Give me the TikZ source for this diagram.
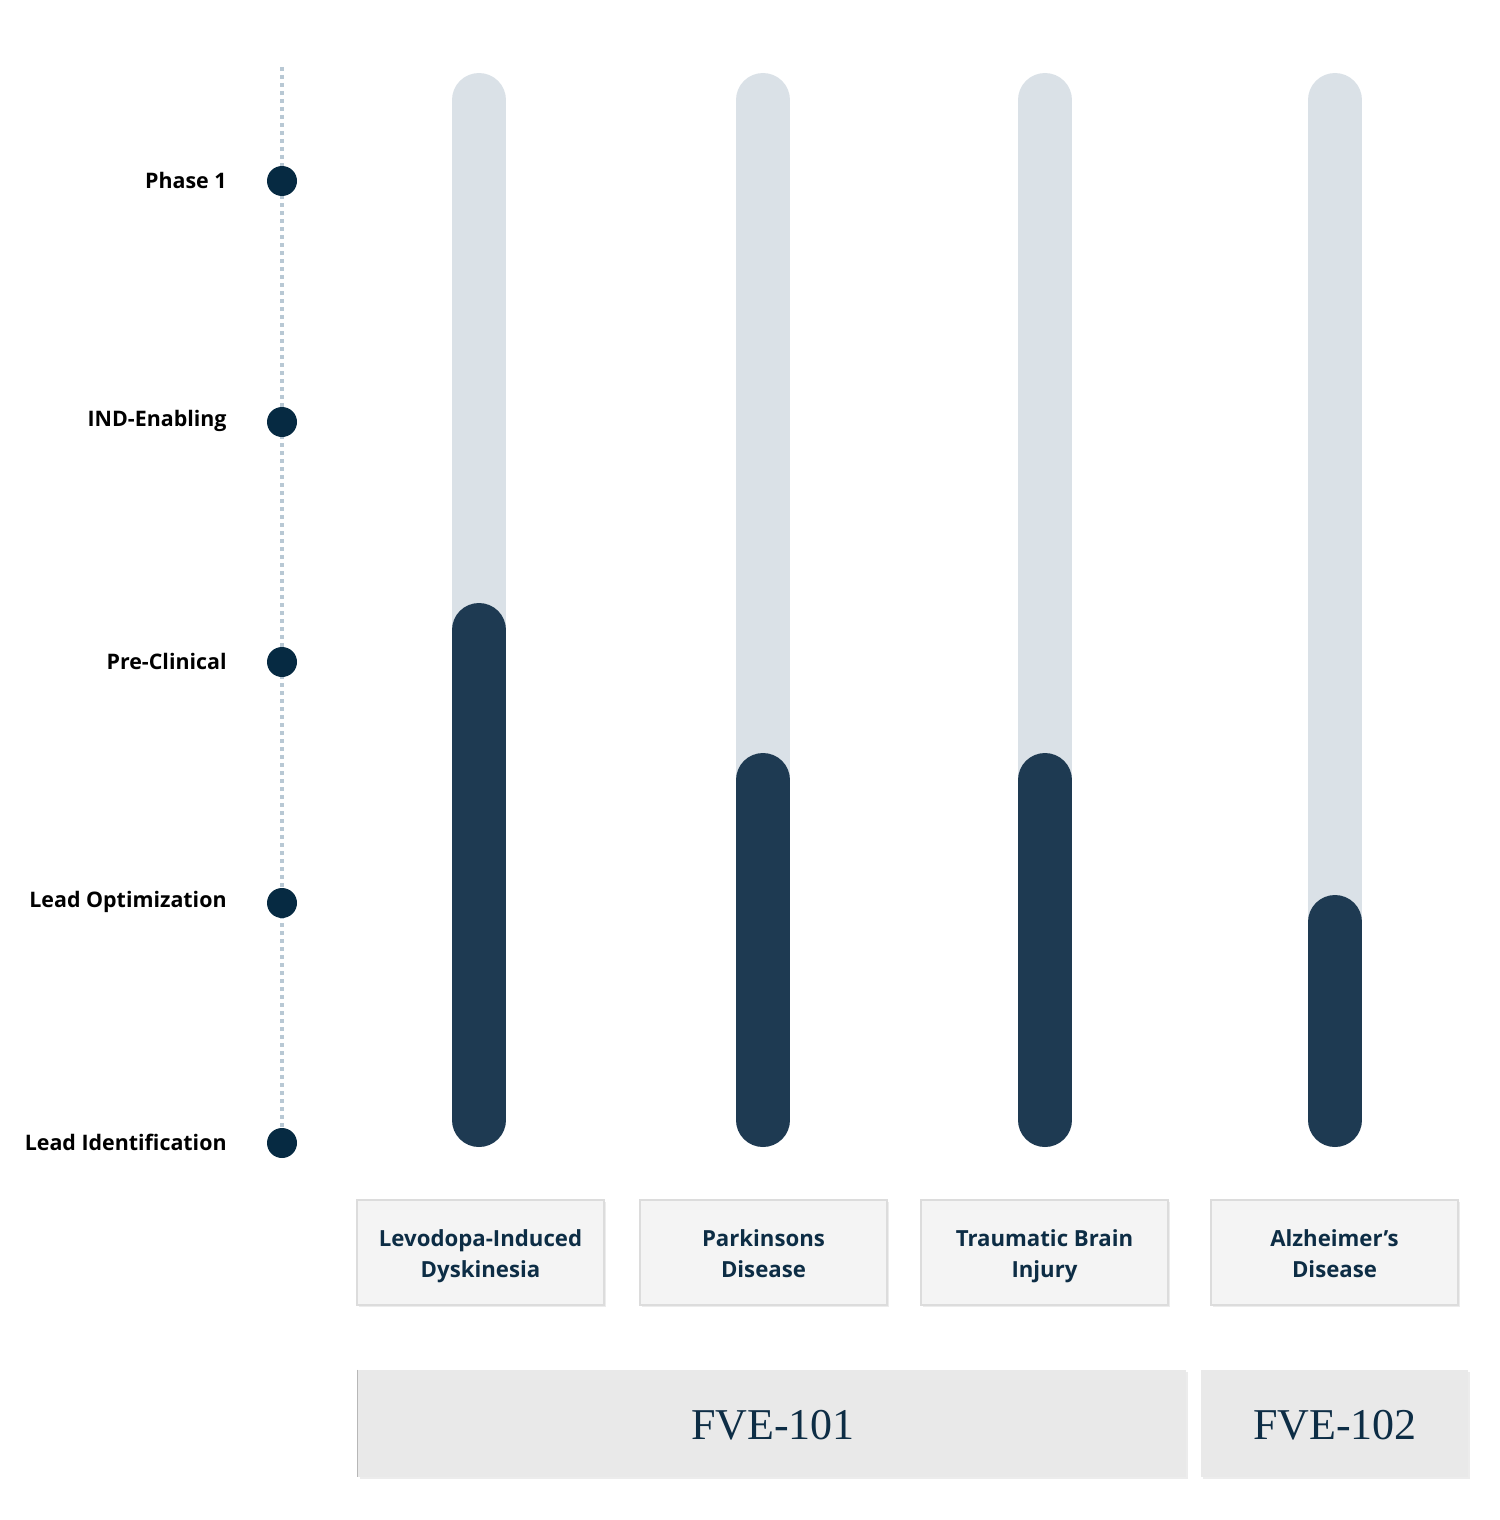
\documentclass[tikz,border=0pt]{standalone}
\usepackage{fontspec}
\setmainfont{Open Sans}
\newfontfamily\fveserif{Liberation Serif}
\usetikzlibrary{shadows}
\definecolor{navy}{HTML}{062A42}
\definecolor{barlight}{HTML}{DAE1E7}
\definecolor{bardark}{HTML}{1E3A52}
\definecolor{dotline}{HTML}{B8C8D4}
\definecolor{boxfill}{HTML}{F4F4F4}
\definecolor{boxedge}{HTML}{DCDCDC}
\definecolor{fvefill}{HTML}{E9E9E9}
\definecolor{txtnavy}{HTML}{0D2D45}
\begin{document}
\begin{tikzpicture}[x=0.5pt,y=-0.5pt,
  stagelabel/.style={anchor=east,font=\fontsize{10.7}{13}\selectfont\bfseries,text=black,inner sep=0pt},
  stagedot/.style={circle,fill=navy,minimum size=15pt,inner sep=0pt},
  bartrack/.style={line width=27pt,line cap=round,barlight},
  barfill/.style={line width=27pt,line cap=round,bardark},
  diseasebox/.style={draw=boxedge,line width=0.6pt,fill=boxfill,minimum width=123.5pt,minimum height=52.5pt,inner sep=0pt,drop shadow={shadow xshift=0.8pt,shadow yshift=-0.8pt,opacity=0.15}},
  diseasetext/.style={align=center,font=\fontsize{11.1}{15.5}\selectfont\bfseries,text=txtnavy,inner sep=0pt},
  fvebox/.style={fill=fvefill,minimum height=53.5pt,inner sep=0pt,drop shadow={shadow xshift=0.8pt,shadow yshift=-0.8pt,opacity=0.15}},
  fvetext/.style={text=txtnavy,font=\fveserif\fontsize{22}{24}\selectfont}
]
\useasboundingbox (0,0) rectangle (1499,1520);
% dotted axis
\coordinate (axtop) at (282,67);
\coordinate (axbot) at (282,1150);
\draw[dotline,line width=2pt,dash pattern=on 2pt off 2pt] (axtop) -- (axbot);
% stage dots and labels
\foreach \n/\y/\t in {p1/181/Phase 1,ind/422/IND-Enabling,pre/662/Pre-Clinical,lo/903/Lead Optimization,li/1143/Lead Identification}{
  \node[stagedot] (dot\n) at (282,\y) {};
  \node[stagelabel] (lab\n) at (227,\y-1) {\t};
}
% bars
\foreach \x/\top in {479/630,763/780,1045/780,1335/922}{
  \draw[bartrack] (\x,100) -- (\x,1120);
  \draw[barfill] (\x,\top) -- (\x,1120);
}
% disease boxes
\node[diseasebox] (dA) at (480.5,1252.5) {};
\node[diseasebox] (dB) at (763.5,1252.5) {};
\node[diseasebox] (dC) at (1044.5,1252.5) {};
\node[diseasebox] (dD) at (1334.5,1252.5) {};
\foreach \b/\t in {dA/{Levodopa-Induced\strut\\Dyskinesia\strut},dB/{Parkinsons\strut\\Disease\strut},dC/{Traumatic Brain\strut\\Injury\strut},dD/{Alzheimer’s\strut\\Disease\strut}}{
  \node[diseasetext] (\b t) at ([yshift=-1.8pt]\b.center) {\t};
}
% FVE boxes
\node[fvebox,minimum width=414pt] (f1) at (772,1423.5) {};
\node[fvetext] (f1t) at (773,1425) {FVE-101};
\draw[boxedge!60!gray,line width=0.6pt] (f1.north west) -- (f1.south west);
\node[fvebox,minimum width=133.5pt] (f2) at (1334.5,1423.5) {};
\node[fvetext] (f2t) at (1335,1425) {FVE-102};
\end{tikzpicture}
\end{document}
